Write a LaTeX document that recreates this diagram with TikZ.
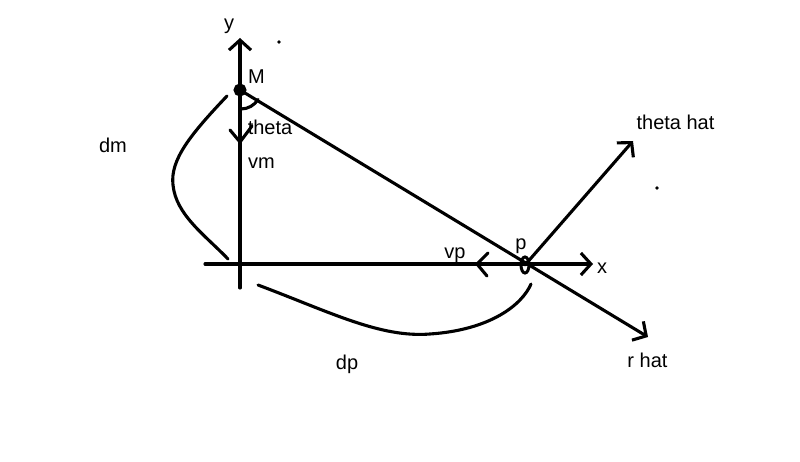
\documentclass[tikz,border=0pt]{standalone}
\usepackage{fontspec}
\setmainfont{Liberation Sans}
\usetikzlibrary{arrows.meta}
\begin{document}
\begin{tikzpicture}[x=1pt,y=-1pt,
  ln/.style={line width=3.1pt,line cap=round,line join=round},
  tip/.style={-{Straight Barb[length=10pt,width=22pt,line width=3.1pt]}},
  lbl/.style={font=\fontsize{20}{20}\selectfont,inner sep=0pt}]
\useasboundingbox[fill=white] (0,0) rectangle (800,462);
% key points
\coordinate (O) at (240,264);
\coordinate (ybot) at (240,288);
\coordinate (ytop) at (240,38);
\coordinate (xleft) at (205,264);
\coordinate (xright) at (593,264);
\coordinate (M) at (240,90);
\coordinate (P) at (525,265);
\coordinate (rtip) at (648,337);
\coordinate (ttip) at (633,141);
% axes
\draw[ln,tip] (ybot) -- (ytop);
\draw[ln,tip] (xleft) -- (xright);
% r hat line
\draw[ln,tip] (M) -- (rtip);
% theta hat
\draw[ln,tip] (P) -- (ttip);
% vm head
\coordinate (vmA) at (230,130);
\coordinate (vmT) at (240,142);
\coordinate (vmB) at (252,126);
\draw[ln] (vmA) -- (vmT) -- (vmB);
% vp head
\coordinate (vpA) at (488,253);
\coordinate (vpT) at (477,264);
\coordinate (vpB) at (487,276);
\draw[ln] (vpA) -- (vpT) -- (vpB);
% theta arc
\draw[ln] (241,109) arc[start angle=90,end angle=31.5,radius=20];
% M point
\node[circle,draw,fill=black,line width=2pt,minimum size=11pt,inner sep=0pt] (Mdot) at (M) {};
% p ellipse
\draw[line width=3pt] (P) ellipse[x radius=4,y radius=8];
% dm curve
\coordinate (dm1) at (227,96);
\coordinate (dm2) at (228,259);
\draw[ln] (dm1) .. controls (190,135) and (170,160) .. (173,185) .. controls (176,215) and (205,235) .. (dm2);
% dp curve
\coordinate (dp1) at (258,285);
\coordinate (dp2) at (531,284);
\draw[ln] (dp1) .. controls (330,312) and (380,338) .. (430,334) .. controls (490,330) and (522,305) .. (dp2);
% dots
\fill (279,42) circle[radius=1.8];
\fill (657,188) circle[radius=1.8];
% labels
\node[lbl] (ly) at (229,26) {y};
\node[lbl] (lx) at (602,268) {x};
\node[lbl] (lM) at (256.5,76.5) {M};
\node[lbl] (lth) at (270,127.5) {theta};
\node[lbl] (lvm) at (261.5,163.5) {vm};
\node[lbl] (ldm) at (113,145) {dm};
\node[lbl] (lvp) at (455,255) {vp};
\node[lbl] (lp) at (521,246) {p};
\node[lbl] (lthh) at (675.5,122.5) {theta hat};
\node[lbl] (lrh) at (647.5,360) {r hat};
\node[lbl] (ldp) at (347,364) {dp};
\end{tikzpicture}
\end{document}
